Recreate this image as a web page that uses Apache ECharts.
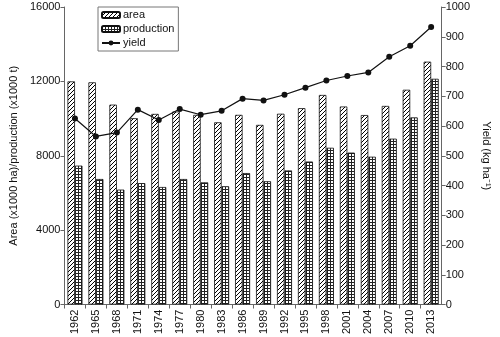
<!DOCTYPE html>
<html>
<head>
<meta charset="utf-8">
<script src="https://cdn.jsdelivr.net/npm/echarts@6/dist/echarts.min.js"></script>
<style>
html,body{margin:0;padding:0;background:#fff;}
#chart{width:500px;height:337px;}
</style>
</head>
<body>
<div id="chart"></div>
<script>
const years = ['1962','1965','1968','1971','1974','1977','1980','1983','1986','1989','1992','1995','1998','2001','2004','2007','2010','2013'];
const area = [12000, 11950, 10750, 10020, 10250, 10380, 10200, 9800, 10200, 9660, 10260, 10560, 11270, 10650, 10190, 10680, 11550, 13060];
const production = [7470, 6750, 6180, 6530, 6320, 6750, 6570, 6360, 7070, 6630, 7210, 7690, 8430, 8170, 7950, 8920, 10060, 12140];
const yieldData = [625, 565, 578, 655, 620, 657, 638, 651, 692, 686, 705, 729, 753, 768, 780, 833, 870, 933];

function hatchCanvas() {
  const c = document.createElement('canvas');
  c.width = 4; c.height = 4;
  const g = c.getContext('2d');
  g.fillStyle = '#fff'; g.fillRect(0, 0, 4, 4);
  g.strokeStyle = '#000'; g.lineWidth = 1;
  g.beginPath();
  g.moveTo(-1, 5); g.lineTo(5, -1);
  g.moveTo(-1, 1); g.lineTo(1, -1);
  g.moveTo(3, 5); g.lineTo(5, 3);
  g.stroke();
  return c;
}
function gridCanvas() {
  const c = document.createElement('canvas');
  c.width = 3; c.height = 3;
  const g = c.getContext('2d');
  g.fillStyle = '#fff'; g.fillRect(0, 0, 3, 3);
  g.fillStyle = '#222';
  g.fillRect(0, 0, 3, 1);
  g.fillRect(0, 0, 1, 3);
  return c;
}

const font = 'Liberation Sans, Arial, sans-serif';
const plain = v => String(v);
const chart = echarts.init(document.getElementById('chart'), null, {renderer: 'canvas'});
chart.setOption({
  animation: false,
  backgroundColor: '#fff',
  textStyle: {fontFamily: font},
  grid: {left: 52, right: 40, top: 7, bottom: 29},
  legend: {
    left: 98, top: 7,
    orient: 'vertical',
    borderColor: '#777', borderWidth: 1,
    padding: [2, 4, 2, 3],
    itemGap: 2,
    itemWidth: 18, itemHeight: 6,
    textStyle: {fontSize: 11, color: '#111', fontFamily: font, lineHeight: 12, padding: [0, 0, 0, -2]},
    data: ['area', 'production', 'yield']
  },
  xAxis: {
    type: 'category',
    data: years,
    boundaryGap: true,
    axisLine: {lineStyle: {color: '#666', width: 1}},
    axisTick: {show: true, alignWithLabel: false, length: 4, lineStyle: {color: '#666'}},
    axisLabel: {rotate: 90, fontSize: 11, color: '#111', margin: 5, interval: 0, fontFamily: font}
  },
  yAxis: [
    {
      type: 'value', min: 0, max: 16000, interval: 4000,
      name: 'Area (x1000 ha)/production (x1000 t)',
      nameLocation: 'middle', nameGap: 43, nameRotate: 90,
      nameTextStyle: {fontSize: 11, color: '#111', fontFamily: font},
      axisLine: {show: true, lineStyle: {color: '#666'}},
      axisTick: {show: true, length: 4, lineStyle: {color: '#666'}},
      splitLine: {show: false},
      axisLabel: {fontSize: 11, color: '#111', margin: 4, fontFamily: font, formatter: plain}
    },
    {
      type: 'value', min: 0, max: 1000, interval: 100,
      position: 'right',
      name: 'Yield (kg ha\u207B\u00B9)',
      nameLocation: 'middle', nameGap: 33, nameRotate: -90,
      nameTextStyle: {fontSize: 11, color: '#111', fontFamily: font},
      axisLine: {show: true, lineStyle: {color: '#666'}},
      axisTick: {show: true, length: 4, lineStyle: {color: '#666'}},
      splitLine: {show: false},
      axisLabel: {fontSize: 11, color: '#111', margin: 4, fontFamily: font, formatter: plain}
    }
  ],
  series: [
    {
      name: 'area', type: 'bar', data: area,
      barWidth: 7.5, barGap: '0%',
      itemStyle: {color: {image: hatchCanvas(), repeat: 'repeat'}, borderColor: '#111', borderWidth: 0.8}
    },
    {
      name: 'production', type: 'bar', data: production,
      barWidth: 7.5, barGap: '0%',
      itemStyle: {color: {image: gridCanvas(), repeat: 'repeat'}, borderColor: '#111', borderWidth: 0.8}
    },
    {
      name: 'yield', type: 'line', yAxisIndex: 1, data: yieldData,
      symbol: 'circle', symbolSize: 6, z: 5,
      lineStyle: {color: '#111', width: 1.2},
      itemStyle: {color: '#111'}
    }
  ]
});
</script>
</body>
</html>
